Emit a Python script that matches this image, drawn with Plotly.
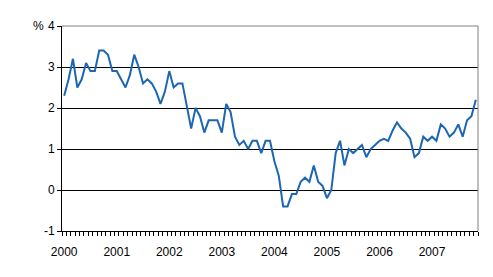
import plotly.graph_objects as go

years = ["2000", "2001", "2002", "2003", "2004", "2005", "2006", "2007"]
values = [
    # 2000
    2.3, 2.7, 3.2, 2.5, 2.7, 3.1, 2.9, 2.9, 3.4, 3.4, 3.3, 2.9,
    # 2001
    2.9, 2.7, 2.5, 2.8, 3.3, 3.0, 2.6, 2.7, 2.6, 2.4, 2.1, 2.4,
    # 2002
    2.9, 2.5, 2.6, 2.6, 2.0, 1.5, 2.0, 1.8, 1.4, 1.7, 1.7, 1.7,
    # 2003
    1.4, 2.1, 1.9, 1.3, 1.1, 1.2, 1.0, 1.2, 1.2, 0.9, 1.2, 1.2,
    # 2004
    0.7, 0.35, -0.4, -0.4, -0.1, -0.1, 0.2, 0.3, 0.2, 0.6, 0.2, 0.1,
    # 2005
    -0.2, 0.0, 0.9, 1.2, 0.6, 1.0, 0.9, 1.0, 1.1, 0.8, 1.0, 1.1,
    # 2006
    1.2, 1.25, 1.2, 1.45, 1.65, 1.5, 1.4, 1.25, 0.8, 0.9, 1.3, 1.2,
    # 2007 (Jan-Nov)
    1.3, 1.2, 1.6, 1.5, 1.3, 1.4, 1.6, 1.3, 1.7, 1.8, 2.2,
]
months = list(range(len(values)))
y_ticks = [-1, 0, 1, 2, 3, 4]
y_labels = ["-1", "0", "1", "2", "3", "4"]

font_family = "Liberation Sans, Arial, sans-serif"

fig = go.Figure()
fig.add_trace(go.Scatter(
    x=months, y=values, mode="lines",
    line=dict(color="#1c66b2", width=2),
    hoverinfo="skip", showlegend=False,
))

fig.update_layout(
    width=493, height=277,
    margin=dict(l=62, r=15, t=26, b=46),
    paper_bgcolor="white", plot_bgcolor="white",
    font=dict(family=font_family, size=12, color="black"),
    xaxis=dict(
        range=[-0.5, len(values) - 0.5],
        tickvals=[12 * i for i in range(len(years))],
        ticktext=years,
        ticks="", showgrid=False, zeroline=False,
        showline=True, linecolor="black", linewidth=1,
        minor=dict(ticks="outside", tick0=-0.5, dtick=1, ticklen=4,
                   tickcolor="black", tickwidth=1, showgrid=False),
        ticklabelstandoff=10,
        tickfont=dict(size=12),
    ),
    yaxis=dict(
        range=[-1, 4],
        tickvals=y_ticks,
        ticktext=y_labels,
        ticks="outside", ticklen=4, tickcolor="black",
        showgrid=True, gridcolor="black", gridwidth=1,
        zeroline=False,
        showline=True, linecolor="black", linewidth=1,
        tickfont=dict(size=12),
    ),
    shapes=[
        dict(type="line", xref="paper", yref="paper", x0=0, x1=1, y0=1, y1=1,
             line=dict(color="#808080", width=1), layer="above"),
        dict(type="line", xref="paper", yref="paper", x0=1, x1=1, y0=0, y1=1,
             line=dict(color="#808080", width=1), layer="above"),
    ],
    annotations=[
        dict(text="%", xref="paper", yref="paper", x=0, y=1,
             xanchor="right", yanchor="middle", xshift=-16, showarrow=False,
             font=dict(size=12, color="black")),
    ],
)

fig.write_html("out.html")
